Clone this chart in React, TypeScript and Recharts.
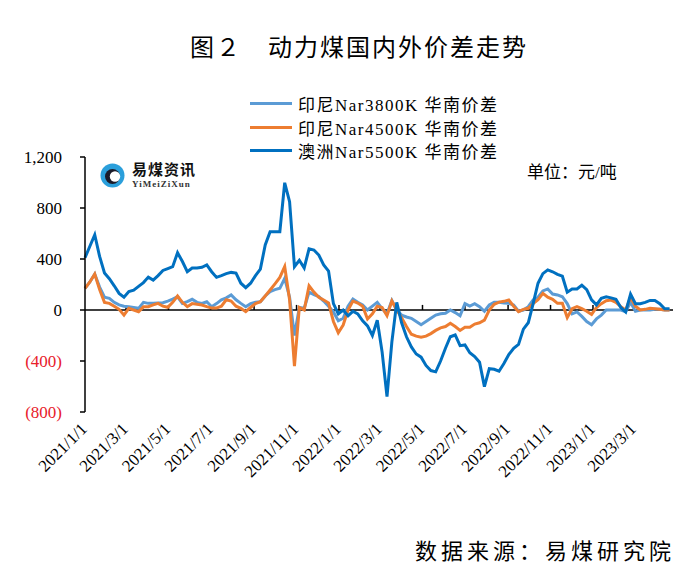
import React from "react";
import { LineChart, Line, XAxis, YAxis, ReferenceLine } from "recharts";

// weekly spreads, yuan/ton, starting 2021/1/1
const START = "2021/1/1";

const ID3800 = [
  170, 220, 282, 180, 100, 92, 60, 40, 30, 26,
  20, 13, 60, 52, 52, 55, 57, 70, 85, 104,
  52, 65, 84, 60, 52, 65, 26, 50, 80, 95,
  118, 80, 52, 26, 50, 60, 65, 110, 144, 160,
  170, 248, 100, -200, 20, 13, 140, 120, 105, 70,
  30, -15, -85, -65, 30, 85, 60, 40, 0, 30,
  60, 10, -30, 75, 0, -40, -55, -65, -90, -115,
  -90, -65, -40, -30, -26, 0, -20, -45, 50, 30,
  50, 26, -10, 39, 60, 60, 55, 52, 39, -10,
  0, 26, 80, 100, 150, 165, 125, 118, 104, 50,
  -30, -15, -50, -90, -115, -70, -40, 0, 0, 0,
  0, -13, 60, -10, 0, 0, 0, 5, 5, 0,
  0,
];

const ID4500 = [
  170, 220, 282, 160, 60, 52, 30, 5, -40, 13,
  0, -13, 25, 26, 40, 52, 30, 21, 60, 110,
  60, 26, 50, 45, 39, 26, 15, 15, 30, 80,
  70, 30, 13, -13, 20, 50, 65, 110, 157, 205,
  255, 340, 80, -440, 20, 0, 190, 140, 100, 78,
  55, -90, -178, -118, 0, 70, 55, 30, -70, -30,
  30, 20, -45, 70, 0, -60, -130, -190, -205, -214,
  -205, -185, -160, -140, -130, -104, -130, -160, -135, -135,
  -110, -100, -80, 0, 45, 62, 68, 78, 30, -13,
  5, 13, 50, 80, 131, 100, 84, 52, 52, -60,
  10, 26, 10, -10, -35, 20, 50, 73, 78, 60,
  26, 0, 100, 30, 0, 5, 13, 10, 5, 0,
  0,
];

const AU5500 = [
  410, 500, 590, 420, 290, 245, 190, 130, 100, 145,
  155, 185, 215, 258, 235, 270, 310, 325, 340, 449,
  380, 300, 329, 329, 335, 353, 300, 256, 270, 285,
  295, 290, 210, 175, 210, 270, 321, 510, 614, 614,
  614, 998, 850, 340, 390, 330, 480, 470, 431, 353,
  305, 50, -30, 0, -45, -10, -30, -85, -125, -200,
  -80, -330, -680, -250, 60, -100, -210, -290, -345, -370,
  -435, -475, -485, -400, -300, -210, -196, -280, -274, -335,
  -365, -410, -601, -460, -465, -480, -420, -350, -300, -270,
  -150, -100, 50, 210, 285, 315, 300, 280, 265, 140,
  165, 165, 195, 160, 80, 40, 92, 104, 95, 84,
  20, -15, 125, 50, 50, 60, 75, 75, 50, 10,
  10,
];

const X_TICKS = [
  "2021/1/1", "2021/3/1", "2021/5/1", "2021/7/1", "2021/9/1", "2021/11/1",
  "2022/1/1", "2022/3/1", "2022/5/1", "2022/7/1", "2022/9/1", "2022/11/1",
  "2023/1/1", "2023/3/1",
];
const Y_TICKS = [-800, -400, 0, 400, 800, 1200];

const SERIES = [
  { key: "id38", name: "印尼Nar3800K 华南价差", color: "#5B9BD5" },
  { key: "id45", name: "印尼Nar4500K 华南价差", color: "#ED7D31" },
  { key: "au55", name: "澳洲Nar5500K 华南价差", color: "#0070C0" },
];

const DAY = 86400000;
const toDay = (s: string) => {
  const [y, m, d] = s.split("/").map(Number);
  const [y0, m0, d0] = START.split("/").map(Number);
  return Math.round((Date.UTC(y, m - 1, d) - Date.UTC(y0, m0 - 1, d0)) / DAY);
};

const tickDays = X_TICKS.map(toDay);
const labelByDay: Record<number, string> = {};
X_TICKS.forEach((t, i) => (labelByDay[tickDays[i]] = t));

const data = AU5500.map((v, i) => ({
  d: i * 7,
  id38: ID3800[i],
  id45: ID4500[i],
  au55: v,
}));

const SERIF = "'Liberation Serif', 'Noto Sans CJK SC', serif";
const CJK = "'Liberation Serif', 'Noto Sans CJK SC', sans-serif";

const fmtY = (v: number) =>
  v < 0 ? `(${Math.abs(v)})` : v >= 1000 ? v.toLocaleString("en-US") : String(v);

const YTick = (props: any) => {
  const { x, y, payload } = props;
  const v = payload.value as number;
  return (
    <text x={x} y={y} dy={6} textAnchor="end" fontSize={17} fontFamily={SERIF} fill={v < 0 ? "#E8202A" : "#000"}>
      {fmtY(v)}
    </text>
  );
};

const XTick = (props: any) => {
  const { x, y, payload } = props;
  const ax = x + 3;
  const ay = y + 10;
  return (
    <text x={ax} y={ay} textAnchor="end" fontSize={17} fontFamily={SERIF} fill="#000" transform={`rotate(-45, ${ax}, ${ay})`}>
      {labelByDay[payload.value]}
    </text>
  );
};

function Logo() {
  return (
    <div style={{ position: "absolute", left: 100, top: 161, display: "flex", alignItems: "center" }}>
      <svg width={25} height={25}>
        <circle cx={12.5} cy={12.5} r={12} fill="#2B9FDB" />
        <circle cx={12.5} cy={13.5} r={7.5} fill="#1b1b2a" />
        <circle cx={15} cy={13.5} r={5.2} fill="#fff" />
      </svg>
      <div style={{ marginLeft: 7 }}>
        <div style={{ fontFamily: "'Noto Sans CJK SC'", fontWeight: 700, fontSize: 15, lineHeight: "15px", height: 15, letterSpacing: 1, color: "#111" }}>易煤资讯</div>
        <div style={{ fontFamily: "'Liberation Serif'", fontWeight: 700, fontSize: 9, lineHeight: "9px", height: 9, letterSpacing: 1, color: "#333", marginTop: 4 }}>YiMeiZiXun</div>
      </div>
    </div>
  );
}

export default function App() {
  return (
    <div style={{ position: "absolute", left: 0, top: 0, width: 700, height: 580, background: "#fff" }}>
      <div style={{ position: "absolute", left: 190, top: 28, fontFamily: CJK, fontSize: 24, letterSpacing: 2, color: "#000", whiteSpace: "nowrap" }}>
        图２　动力煤国内外价差走势
      </div>

      <LineChart width={700} height={580} data={data} margin={{ top: 157, right: 27, left: 0, bottom: 68 }}>
        <XAxis
          dataKey="d"
          type="number"
          domain={[0, 845]}
          ticks={tickDays}
          interval={0}
          axisLine={false}
          tickLine={false}
          height={100}
          tick={<XTick />}
        />
        <YAxis
          domain={[-800, 1200]}
          ticks={Y_TICKS}
          interval={0}
          width={85}
          axisLine={{ stroke: "#000", strokeWidth: 1.5 }}
          tickLine={{ stroke: "#000", strokeWidth: 1.5 }}
          tickSize={5}
          tickMargin={18}
          tick={<YTick />}
        />
        <ReferenceLine y={0} stroke="#000" strokeWidth={1.5} />
        {tickDays.slice(1).map((d) => (
          <ReferenceLine
            key={d}
            segment={[{ x: d, y: 0 }, { x: d, y: 40 }]}
            stroke="#000"
            strokeWidth={1.5}
          />
        ))}
        {SERIES.map((s) => (
          <Line
            key={s.key}
            type="linear"
            dataKey={s.key}
            name={s.name}
            stroke={s.color}
            strokeWidth={3}
            dot={false}
            isAnimationActive={false}
          />
        ))}
      </LineChart>

      <Logo />

      <div style={{ position: "absolute", left: 250, top: 92 }}>
        {SERIES.map((s) => (
          <div key={s.key} style={{ display: "flex", alignItems: "center", height: 23.5 }}>
            <span style={{ display: "inline-block", width: 42, height: 3, background: s.color, marginRight: 6 }} />
            <span style={{ fontFamily: CJK, fontSize: 17, letterSpacing: 1.5, color: "#000", whiteSpace: "nowrap" }}>{s.name}</span>
          </div>
        ))}
      </div>

      <div style={{ position: "absolute", left: 527, top: 158, fontFamily: CJK, fontSize: 17, color: "#000", whiteSpace: "nowrap" }}>
        单位：元/吨
      </div>

      <div style={{ position: "absolute", left: 415, top: 533, fontFamily: CJK, fontSize: 22, letterSpacing: 4, color: "#000", whiteSpace: "nowrap" }}>
        数据来源：易煤研究院
      </div>
    </div>
  );
}
